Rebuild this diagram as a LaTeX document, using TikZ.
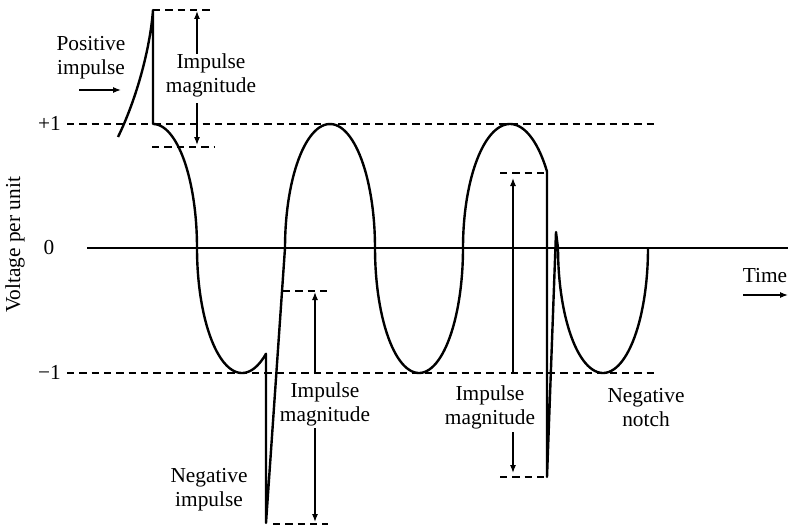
\documentclass[tikz,border=0pt]{standalone}
\usepackage{fontspec}
\setmainfont{Liberation Serif}
\usetikzlibrary{arrows.meta}
\begin{document}
\begin{tikzpicture}[x=0.75pt,y=-0.75pt,
  wave/.style={line width=1.8pt,line join=round},
  axisline/.style={line width=1pt},
  dashline/.style={line width=1pt,dash pattern=on 5.5pt off 3.75pt},
  magarrow/.style={line width=0.9pt,-{Latex[length=6pt,width=4.5pt]}},
  lbl/.style={font=\fontsize{16}{18}\selectfont,align=center,inner sep=0pt},
  every plot/.style={samples=60}]
\useasboundingbox (0,0) rectangle (788,528);

% reference lines
\coordinate (p1l) at (67,124);  \coordinate (p1r) at (656,124);
\coordinate (m1l) at (67,373);  \coordinate (m1r) at (656,373);
\coordinate (z0l) at (87,248);  \coordinate (z0r) at (788,248);
\draw[dashline] (p1l) -- (p1r);
\draw[dashline] (m1l) -- (m1r);
\draw[axisline] (z0l) -- (z0r);

% labels of axis
\node[lbl,anchor=east] (lp1) at (61,123) {+1};
\node[lbl] (l0) at (49,248) {0};
\node[lbl,anchor=east] (lm1) at (61,372) {−1};
\node[lbl,rotate=90] (ylab) at (15,245) {Voltage per unit};
\node[lbl] (tlab) at (765,276) {Time};
\coordinate (ta) at (743,295); \coordinate (tb) at (788,295);
\draw[magarrow] (ta) -- (tb);

% waveform
\draw[wave]
  (118,137) .. controls (136,100) and (150,50) .. (153,10) -- (153,124)
  -- plot[domain=90:0] ({153+44*cos(\x)},{248-124*sin(\x)})
  -- plot[domain=0:122.2] ({242-45*cos(\x)},{248+125*sin(\x)})
  -- (266,523) -- (285,248)
  -- plot[domain=0:180] ({330-45*cos(\x)},{248-124*sin(\x)})
  -- plot[domain=0:180] ({419-44*cos(\x)},{248+125*sin(\x)})
  -- plot[domain=0:141.9] ({510-47*cos(\x)},{248-124*sin(\x)})
  -- (547,477) -- (556,232) -- (558,248)
  -- plot[domain=0:180] ({603-45*cos(\x)},{248+125*sin(\x)});

% positive impulse
\draw[dashline] (153,10) -- (214,10);
\draw[dashline] (152,147) -- (214,147);
\node[lbl] (pim) at (211,75) {Impulse\\magnitude};
\coordinate (a1a) at (197,54); \coordinate (a1b) at (197,11);
\coordinate (a1c) at (197,103); \coordinate (a1d) at (197,145);
\draw[magarrow] (a1a) -- (a1b);
\draw[magarrow] (a1c) -- (a1d);
\node[lbl] (posl) at (91,58) {Positive\\impulse};
\coordinate (pa) at (79,90); \coordinate (pb) at (121,90);
\draw[magarrow] (pa) -- (pb);

% negative impulse
\draw[dashline] (283,291) -- (331,291);
\draw[dashline] (273,524) -- (328,524);
\node[lbl] (nim) at (325,404) {Impulse\\magnitude};
\coordinate (a2a) at (315,373); \coordinate (a2b) at (315,292);
\coordinate (a2c) at (315,428); \coordinate (a2d) at (315,522);
\draw[magarrow] (a2a) -- (a2b);
\draw[magarrow] (a2c) -- (a2d);
\node[lbl] (negl) at (209,490) {Negative\\impulse};

% third impulse
\draw[dashline] (500,173) -- (547,173);
\draw[dashline] (500,477) -- (547,477);
\node[lbl] (tim) at (490,407) {Impulse\\magnitude};
\coordinate (a3a) at (513,373); \coordinate (a3b) at (513,178);
\coordinate (a3c) at (513,432); \coordinate (a3d) at (513,473);
\draw[magarrow] (a3a) -- (a3b);
\draw[magarrow] (a3c) -- (a3d);
\node[lbl] (notl) at (646,408) {Negative\\notch};
\end{tikzpicture}
\end{document}
